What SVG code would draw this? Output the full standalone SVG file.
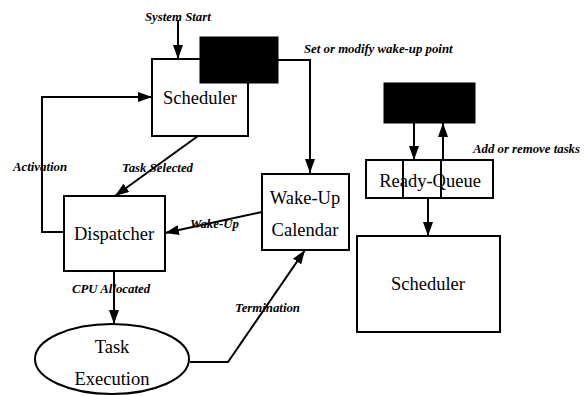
<svg xmlns="http://www.w3.org/2000/svg" width="587" height="396" viewBox="0 0 587 396">
<defs>
<marker id="arr" markerUnits="userSpaceOnUse" markerWidth="15" markerHeight="10" refX="14" refY="5" orient="auto">
<path d="M0,0 L14,5 L0,10 Z" fill="#000"/>
</marker>
<style>
.box{fill:#fff;stroke:#000;stroke-width:2}
.blk{fill:#000;stroke:#000;stroke-width:1}
.ln{fill:none;stroke:#000;stroke-width:2}
.arw{fill:none;stroke:#000;stroke-width:2;marker-end:url(#arr)}
.nt{font-family:"Liberation Serif",serif;font-size:18.5px;text-anchor:middle;fill:#000}
.lb{font-family:"Liberation Serif",serif;font-size:12.8px;font-style:italic;font-weight:bold;fill:#000}
</style>
</defs>
<rect width="587" height="396" fill="#fff"/>
<g id="connectors">
<line class="arw" x1="178" y1="20" x2="178" y2="59"/>
<polyline class="arw" points="278,60 310,60 310,173"/>
<polyline class="arw" points="64,232 42,232 42,97 152,97"/>
<line class="arw" x1="198" y1="136" x2="115" y2="196"/>
<line class="arw" x1="262" y1="212" x2="165" y2="233"/>
<line class="arw" x1="114" y1="271" x2="114" y2="324"/>
<polyline class="arw" points="190,362 228,362 305,250"/>
<line class="arw" x1="414" y1="123" x2="414" y2="160"/>
<line class="arw" x1="443" y1="160" x2="443" y2="123"/>
<line class="arw" x1="428" y1="198" x2="428" y2="236"/>
</g>
<g id="scheduler">
<rect class="box" x="152" y="59" width="96" height="77"/>
<text class="nt" x="200" y="104">Scheduler</text>
</g>
<g id="region1">
<rect class="blk" x="200" y="37" width="78" height="46"/>
</g>
<g id="dispatcher">
<rect class="box" x="64" y="196" width="101" height="75"/>
<text class="nt" x="114" y="240">Dispatcher</text>
</g>
<g id="wakeup">
<rect class="box" x="262" y="174" width="87" height="76"/>
<text class="nt" x="305" y="204">Wake-Up</text>
<text class="nt" x="305" y="236">Calendar</text>
</g>
<g id="task">
<ellipse class="box" cx="112" cy="359" rx="77" ry="35"/>
<text class="nt" x="112" y="353">Task</text>
<text class="nt" x="112" y="385">Execution</text>
</g>
<g id="region2">
<rect class="blk" x="384" y="83" width="91" height="40"/>
</g>
<g id="readyqueue">
<rect class="box" x="366" y="160" width="127" height="38"/>
<line class="ln" x1="403" y1="160" x2="403" y2="198"/>
<line class="ln" x1="441" y1="160" x2="441" y2="198"/>
<text class="nt" x="430" y="187">Ready-Queue</text>
</g>
<g id="scheduler2">
<rect class="box" x="357" y="236" width="143" height="96"/>
<text class="nt" x="428" y="290">Scheduler</text>
</g>
<g id="labels">
<text class="lb" x="145" y="21">System Start</text>
<text class="lb" x="304" y="53">Set or modify wake-up point</text>
<text class="lb" x="13" y="171">Activation</text>
<text class="lb" x="122" y="172">Task Selected</text>
<text class="lb" x="190" y="228">Wake-Up</text>
<text class="lb" x="72" y="293">CPU Allocated</text>
<text class="lb" x="235" y="312">Termination</text>
<text class="lb" x="473" y="153">Add or remove tasks</text>
</g>
</svg>
